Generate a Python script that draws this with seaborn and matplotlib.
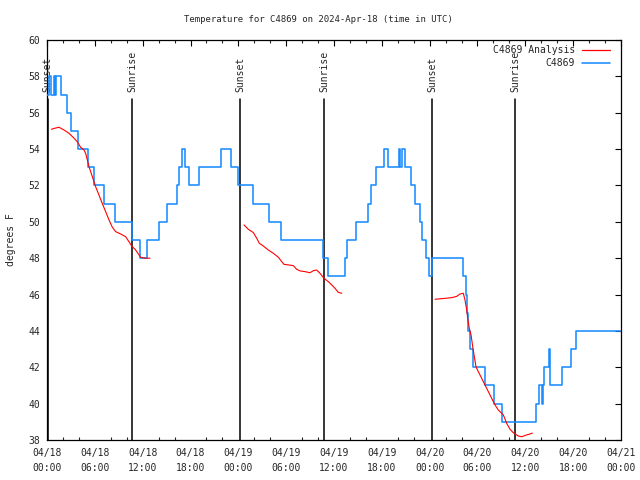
import matplotlib
matplotlib.use('Agg')
import matplotlib.pyplot as plt
from matplotlib.lines import Line2D
import pandas as pd
import seaborn as sns

# ---- data (hours since 2024-04-18 00:00 UTC) ----
blue_hours = [0.0, 0.25, 0.55, 0.9, 1.0, 1.1, 1.71, 2.47, 3.0, 3.93, 5.18, 5.9, 7.15,
              8.5, 10.6, 11.66, 12.55, 14.0, 15.1, 16.25, 16.5, 16.95, 17.3, 17.8,
              19.1, 21.85, 23.1, 23.9, 25.85, 27.85, 29.4, 34.6, 35.2, 37.4, 37.6,
              38.8, 40.3, 40.6, 41.3, 42.3, 42.8, 44.1, 44.3, 44.5, 44.95, 45.6,
              46.2, 46.75, 47.1, 47.5, 47.9, 48.35, 52.2, 52.5, 52.65, 52.8, 53.0,
              53.4, 54.9, 56.1, 57.1, 61.4, 61.75, 62.1, 62.25, 62.4, 62.95, 63.15,
              64.65, 65.75, 66.4, 72.0]
blue_temps = [57, 58, 57, 58, 57, 58, 57, 56, 55, 54, 53, 52, 51,
              50, 49, 48, 49, 50, 51, 52, 53, 54, 53, 52,
              53, 54, 53, 52, 51, 50, 49, 48, 47, 48, 49,
              50, 51, 52, 53, 54, 53, 54, 53, 54, 53, 52,
              51, 50, 49, 48, 47, 48, 47, 46, 45, 44, 43,
              42, 41, 40, 39, 40, 41, 40, 41, 42, 43, 41,
              42, 43, 44, 44]

red1_hours = [0.54, 1.0, 1.51, 2.13, 2.76, 3.39, 3.8, 4.22, 4.64, 4.85, 5.06, 5.27,
              5.69, 6.1, 6.52, 6.94, 7.36, 7.78, 8.2, 8.61, 9.24, 9.87, 10.29,
              10.62, 11.12, 11.54, 11.75, 12.2, 12.92]
red1_temps = [55.09, 55.15, 55.2, 55.05, 54.87, 54.6, 54.4, 54.1, 53.95, 53.76, 53.4,
              53.03, 52.48, 51.93, 51.47, 51.0, 50.56, 50.1, 49.7, 49.46, 49.33,
              49.18, 48.9, 48.67, 48.45, 48.18, 48.05, 48.0, 48.0]
red2_hours = [24.71, 25.25, 25.88, 26.3, 26.63, 27.13, 27.76, 28.39, 29.02, 29.44,
              29.73, 30.27, 30.9, 31.32, 31.74, 32.36, 32.99, 33.4, 33.83, 34.24,
              34.75, 35.29, 35.71, 36.13, 36.54, 36.97]
red2_temps = [49.83, 49.59, 49.41, 49.1, 48.82, 48.67, 48.45, 48.27, 48.05, 47.81,
              47.66, 47.63, 47.59, 47.39, 47.3, 47.26, 47.2, 47.31, 47.35, 47.17,
              46.89, 46.71, 46.53, 46.34, 46.12, 46.07]
red3_hours = [48.67, 49.92, 50.76, 51.39, 51.81, 52.22, 52.43, 52.65, 52.77, 52.97,
              53.19, 53.4, 53.6, 53.81, 54.1, 54.53, 54.94, 55.36, 55.78, 56.2,
              56.61, 57.24, 57.66, 58.08, 58.49, 59.12, 59.54, 60.17, 60.58, 60.88]
red3_temps = [45.74, 45.79, 45.83, 45.9, 46.03, 46.07, 45.7, 45.15, 44.7, 44.14,
              43.78, 43.13, 42.58, 42.03, 41.76, 41.39, 41.02, 40.66, 40.29, 39.93,
              39.65, 39.38, 38.92, 38.59, 38.4, 38.22, 38.18, 38.28, 38.33, 38.38]

sun_hours = [0.1, 10.7, 24.2, 34.78, 48.33, 58.75]
sun_labels = ["Sunset", "Sunrise", "Sunset", "Sunrise", "Sunset", "Sunrise"]

x_ticks = [0, 6, 12, 18, 24, 30, 36, 42, 48, 54, 60, 66, 72]
x_tick_labels = ["04/18\n00:00", "04/18\n06:00", "04/18\n12:00", "04/18\n18:00",
                 "04/19\n00:00", "04/19\n06:00", "04/19\n12:00", "04/19\n18:00",
                 "04/20\n00:00", "04/20\n06:00", "04/20\n12:00", "04/20\n18:00",
                 "04/21\n00:00"]
x_minor = list(range(0, 73, 2))
y_ticks = [38, 40, 42, 44, 46, 48, 50, 52, 54, 56, 58, 60]

title = "Temperature for C4869 on 2024-Apr-18 (time in UTC)"
blue_name = "C4869"
red_name = "C4869 Analysis"
BLUE = '#1a8cff'
RED = '#ff0000'

sns.set_style('white')
plt.rcParams['font.family'] = ['DejaVu Sans Mono', 'DejaVu Sans']
FS = 7

fig = plt.figure(figsize=(6.4, 4.8), dpi=100)
ax = fig.add_axes([47 / 640, 40 / 480, 574 / 640, 400 / 480])

red_df = pd.concat([
    pd.DataFrame({'h': red1_hours, 't': red1_temps, 'seg': 1}),
    pd.DataFrame({'h': red2_hours, 't': red2_temps, 'seg': 2}),
    pd.DataFrame({'h': red3_hours, 't': red3_temps, 'seg': 3}),
])
blue_df = pd.DataFrame({'h': blue_hours, 't': blue_temps})

for h, lab in zip(sun_hours, sun_labels):
    ax.axvline(h, ymin=0, ymax=0.8525, color='black', lw=1.1, zorder=1)
    ax.text(h, 0.87, lab, rotation=90, ha='center', va='bottom', fontsize=FS,
            transform=ax.get_xaxis_transform())

sns.lineplot(data=blue_df, x='h', y='t', drawstyle='steps-post', color=BLUE, lw=1.15,
             estimator=None, sort=False, ax=ax, legend=False, zorder=3)
sns.lineplot(data=red_df, x='h', y='t', units='seg', estimator=None, sort=False,
             color=RED, lw=0.8, ax=ax, legend=False, zorder=4)

ax.set_xlim(0, 72)
ax.set_ylim(38, 60)
ax.set_xticks(x_ticks)
ax.set_xticklabels(x_tick_labels, fontsize=FS, linespacing=1.6)
ax.set_xticks(x_minor, minor=True)
ax.set_yticks(y_ticks)
ax.set_yticklabels([str(v) for v in y_ticks], fontsize=FS)
ax.tick_params(axis='both', which='major', direction='in', length=4.5, width=0.8,
               top=True, right=True, pad=5, color='black')
ax.tick_params(axis='x', which='major', pad=6)
ax.tick_params(axis='x', which='minor', direction='in', length=2.2, width=0.8,
               top=True, bottom=True)
for s in ax.spines.values():
    s.set_color('black')
    s.set_linewidth(0.9)

ax.set_xlabel('')
ax.set_ylabel('degrees F', fontsize=FS, labelpad=9)
fig.text(318 / 640, 1 - 20 / 480, title, fontsize=6.5, ha='center', va='center')

handles = [Line2D([], [], color=RED, lw=0.9), Line2D([], [], color=BLUE, lw=1.15)]
ax.legend(handles, [red_name, blue_name], loc='upper right', frameon=False,
          markerfirst=False, handlelength=2.9, handletextpad=0.7, fontsize=FS,
          labelspacing=0.3, borderpad=0, borderaxespad=0,
          bbox_to_anchor=(1 - 11 / 574, 1 - 5 / 400))

fig.savefig('out.png', dpi=100)
